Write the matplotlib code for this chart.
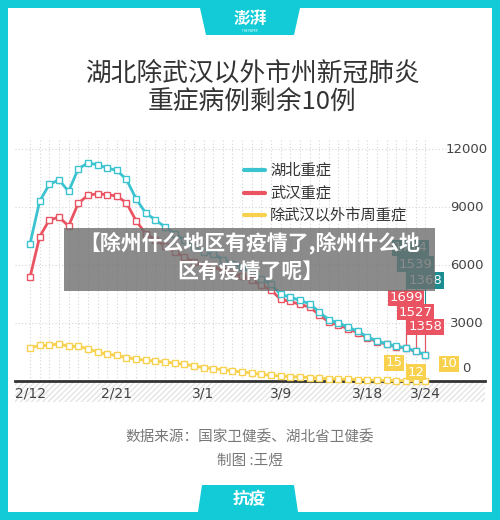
import matplotlib
matplotlib.use("Agg")
import matplotlib.pyplot as plt
from matplotlib.patches import Rectangle, Polygon

plt.rcParams['font.family'] = ['Noto Sans CJK SC', 'DejaVu Sans']

hubei = [7100, 9310, 10170, 10410, 9810, 10980, 11280, 11190, 11020, 10900, 10430, 9430, 8690, 8340,
         7970, 7620, 7280, 6930, 6670, 6590, 6280, 6070, 5900, 5640, 5290, 5000, 4480, 4340, 4170, 4000,
         3570, 3170, 3000, 2790, 2570, 2280, 2070, 1930, 1790, 1714, 1539, 1368]
wuhan = [5380, 7470, 8330, 8480, 8020, 9190, 9610, 9690, 9640, 9570, 9220, 8290, 7620, 7310,
         6990, 6690, 6420, 6140, 5980, 5950, 5690, 5550, 5430, 5230, 4950, 4710, 4220, 4120, 3960, 3830,
         3430, 3050, 2900, 2700, 2500, 2230, 2030, 1900, 1770, 1699, 1527, 1358]
others = [1720, 1840, 1840, 1930, 1790, 1790, 1670, 1500, 1380, 1330, 1210, 1140, 1070, 1030, 980, 930,
          860, 790, 690, 640, 590, 520, 470, 410, 340, 290, 260, 220, 210, 170, 140, 120, 100, 90, 70,
          50, 40, 30, 20, 15, 12, 10]
xtick_idx = [0, 9, 18, 26, 35, 41]
xtick_labels = ['2/12', '2/21', '3/1', '3/9', '3/18', '3/24']
series_names = ['湖北重症', '武汉重症', '除武汉以外市周重症']

W, H = 500, 520
TEAL = '#12cbd6'
C_H, C_W, C_O = '#3cc3d0', '#ea5462', '#f8d24e'
DARK_T = '#1b8c90'

fig = plt.figure(figsize=(5, 5.2), dpi=100)
fig.patch.set_facecolor(TEAL)

def fx(x): return x / W
def fy(y): return 1 - y / H

fig.patches.append(Rectangle((fx(8), fy(512)), fx(484), 504 / H, transform=fig.transFigure,
                             facecolor='white', edgecolor='none', zorder=-5))
fig.patches.append(Polygon([(fx(200), fy(8)), (fx(300), fy(8)), (fx(294), fy(35)), (fx(206), fy(35))],
                           closed=True, transform=fig.transFigure, facecolor=TEAL, edgecolor='none', zorder=-4))
fig.text(fx(250), fy(19), '澎湃', ha='center', va='center', color='white', fontsize=12, fontweight='bold')
fig.text(fx(250), fy(31), 'THE PAPER', ha='center', va='center', color='white', fontsize=2.2)
fig.patches.append(Polygon([(fx(198), fy(512)), (fx(298), fy(512)), (fx(294), fy(485)), (fx(202), fy(485))],
                           closed=True, transform=fig.transFigure, facecolor=TEAL, edgecolor='none', zorder=-4))
fig.text(fx(249), fy(499), '抗疫', ha='center', va='center', color='white', fontsize=12, fontweight='bold')

fig.text(fx(252), fy(74), '湖北除武汉以外市州新冠肺炎', ha='center', va='center', color='#333333', fontsize=18.5)
fig.text(fx(252), fy(103), '重症病例剩余10例', ha='center', va='center', color='#333333', fontsize=18.5)

fig.text(fx(250), fy(437), '数据来源：国家卫健委、湖北省卫健委', ha='center', va='center', color='#777777', fontsize=10.5)
fig.text(fx(250), fy(461), '制图 :王煜', ha='center', va='center', color='#777777', fontsize=10.5)

fig.patches.append(Rectangle((fx(15), fy(402)), fx(470), 21 / H, transform=fig.transFigure,
                             facecolor='white', edgecolor='#e4e4e4', hatch='//////', lw=0, zorder=-3))

ax = fig.add_axes([fx(15), fy(381), fx(470), 241 / H])
ax.set_zorder(2)
ax.set_facecolor('none')
x = list(range(len(hubei)))
ax.set_xlim(-1.56, 47.2)
ax.set_ylim(0, 12470)
for i in x:
    ax.axvline(i, color='#d5d5d5', lw=0.8, ls=(0, (1, 2)), zorder=0)
for v in [3000, 6000, 9000, 12000]:
    ax.axhline(v, color='#d5d5d5', lw=0.8, ls=(0, (1, 2)), zorder=0)
for s in ['top', 'right', 'left']:
    ax.spines[s].set_visible(False)
ax.spines['bottom'].set_color('#333333')
ax.spines['bottom'].set_linewidth(2)
ax.set_yticks([])
ax.set_xticks(xtick_idx)
ax.set_xticklabels(xtick_labels, fontsize=10, color='#444444', family='DejaVu Sans')
ax.tick_params(axis='x', length=0, pad=4)
for v in [0, 3000, 6000, 9000, 12000]:
    ax.text(45.3, v + (300 if v == 0 else 0), str(v), ha='center', va='center' if v else 'bottom',
            fontsize=9.5, color='#444444', family='DejaVu Sans')

for data, c, name in [(others, C_O, series_names[2]), (wuhan, C_W, series_names[1]), (hubei, C_H, series_names[0])]:
    ax.plot(x, data, color=c, lw=2, marker='s', ms=4, mfc='white', mec=c, mew=1, label=name, clip_on=False, zorder=3)

for k, (c, name) in enumerate([(C_H, series_names[0]), (C_W, series_names[1]), (C_O, series_names[2])]):
    yy = 170 + k * 22.5
    fig.lines.append(plt.Line2D([fx(244), fx(265)], [fy(yy), fy(yy)], transform=fig.transFigure, color=c, lw=3,
                                solid_capstyle='round', zorder=3))
    fig.text(fx(270), fy(yy), name, va='center', ha='left', fontsize=11, color='#333333')

def box(xc, yc, txt, fc, x_pt, y_pt):
    ax.plot([x_pt, x_pt], [y_pt, yc], color=fc, lw=0.8, zorder=2)
    ax.text(xc, yc, txt, ha='center', va='center', color='white', fontsize=9.5, family='DejaVu Sans', zorder=5,
            bbox=dict(boxstyle='square,pad=0.12', fc=fc, ec='none'))

box(39.5, 6900, str(hubei[39]), DARK_T, 39, hubei[39])
box(40.0, 6050, str(hubei[40]), DARK_T, 40, hubei[40])
box(41.0, 5200, str(hubei[41]), DARK_T, 41, hubei[41])
box(39.0, 4300, str(wuhan[39]), C_W, 39, wuhan[39])
box(40.0, 3550, str(wuhan[40]), C_W, 40, wuhan[40])
box(41.0, 2800, str(wuhan[41]), C_W, 41, wuhan[41])
box(37.8, 950, str(others[39]), C_O, 39, others[39])
box(40.0, 450, str(others[40]), C_O, 40, others[40])
ax.text(43.5, 900, str(others[41]), ha='center', va='center', color='white', fontsize=9.5, family='DejaVu Sans', zorder=5,
        bbox=dict(boxstyle='square,pad=0.12', fc=C_O, ec='none'))

fig.patches.append(Rectangle((fx(64), fy(291)), fx(371), 63 / H, transform=fig.transFigure,
                             facecolor='#6e6e6e', alpha=0.8, edgecolor='none', zorder=10))
fig.text(fx(250), fy(243), '【除州什么地区有疫情了,除州什么地', ha='center', va='center', color='white',
         fontsize=15, fontweight='bold', zorder=11)
fig.text(fx(250), fy(271), '区有疫情了呢】', ha='center', va='center', color='white',
         fontsize=15, fontweight='bold', zorder=11)

fig.savefig('out.png', dpi=100, facecolor=fig.get_facecolor())
